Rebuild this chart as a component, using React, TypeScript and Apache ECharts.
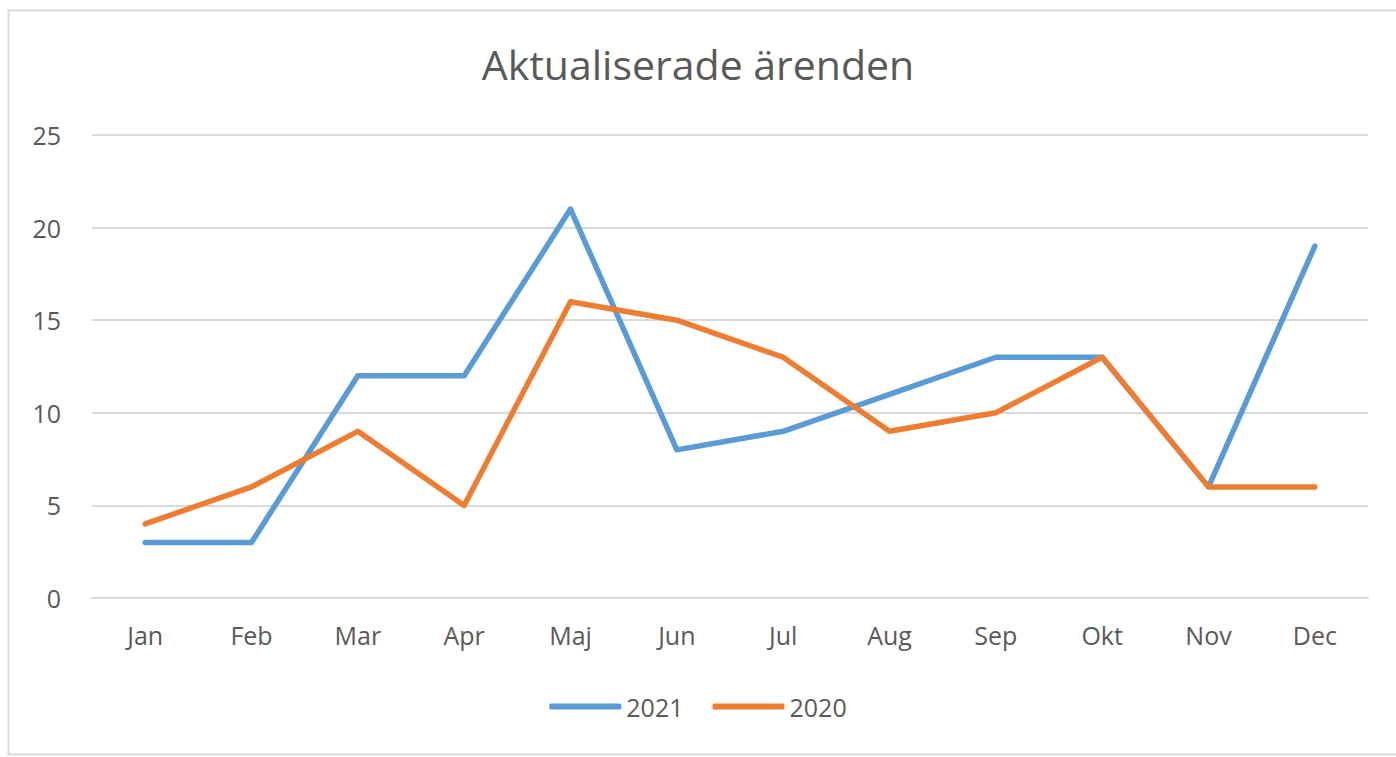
import React, { useEffect, useRef } from "react";
import * as echarts from "echarts";

const months = ["Jan", "Feb", "Mar", "Apr", "Maj", "Jun", "Jul", "Aug", "Sep", "Okt", "Nov", "Dec"];
const series2021 = [3, 3, 12, 12, 21, 8, 9, 11, 13, 13, 6, 19];
const series2020 = [4, 6, 9, 5, 16, 15, 13, 9, 10, 13, 6, 6];
const yTicks = { min: 0, max: 25, interval: 5 };

const FONT = "'Open Sans', 'Liberation Sans', sans-serif";
const TEXT = "#595959";

export default function App() {
  const ref = useRef<HTMLDivElement>(null);
  useEffect(() => {
    if (!ref.current) return;
    const chart = echarts.init(ref.current, null, { renderer: "svg" });
    chart.setOption({
      animation: false,
      backgroundColor: "#ffffff",
      title: {
        text: "Aktualiserade ärenden",
        left: "center",
        top: 38,
        textStyle: { fontFamily: FONT, fontSize: 41, fontWeight: "normal", color: TEXT },
      },
      graphic: [
        {
          type: "rect",
          shape: { x: 8.5, y: 10.5, width: 1400, height: 744 },
          style: { fill: "none", stroke: "#D9D9D9", lineWidth: 2 },
          silent: true,
        },
      ],
      legend: {
        data: ["2021", "2020"],
        bottom: 33,
        left: "center",
        itemWidth: 72,
        itemHeight: 6,
        itemGap: 29,
        icon: "roundRect",
        textStyle: { fontFamily: FONT, fontSize: 25, color: TEXT },
      },
      grid: { left: 92, right: 28, top: 135, bottom: 159 },
      xAxis: {
        type: "category",
        data: months,
        boundaryGap: true,
        axisLine: { show: true, lineStyle: { color: "#D9D9D9", width: 2 } },
        axisTick: { show: false },
        axisLabel: { fontFamily: FONT, fontSize: 25, color: TEXT, margin: 24 },
      },
      yAxis: {
        type: "value",
        min: yTicks.min,
        max: yTicks.max,
        interval: yTicks.interval,
        axisLine: { show: false },
        axisTick: { show: false },
        splitLine: { lineStyle: { color: "#D9D9D9", width: 2 } },
        axisLabel: { fontFamily: FONT, fontSize: 25, color: TEXT, margin: 31 },
      },
      series: [
        {
          name: "2021",
          type: "line",
          data: series2021,
          showSymbol: false,
          symbol: "none",
          lineStyle: { width: 5.5, color: "#5B9BD5", cap: "round", join: "round" },
          itemStyle: { color: "#5B9BD5" },
        },
        {
          name: "2020",
          type: "line",
          data: series2020,
          showSymbol: false,
          symbol: "none",
          lineStyle: { width: 5.5, color: "#ED7D31", cap: "round", join: "round" },
          itemStyle: { color: "#ED7D31" },
        },
      ],
    });
    return () => chart.dispose();
  }, []);
  return (
    <div
      ref={ref}
      style={{ position: "fixed", left: 0, top: 0, width: 1396, height: 757 }}
    />
  );
}
